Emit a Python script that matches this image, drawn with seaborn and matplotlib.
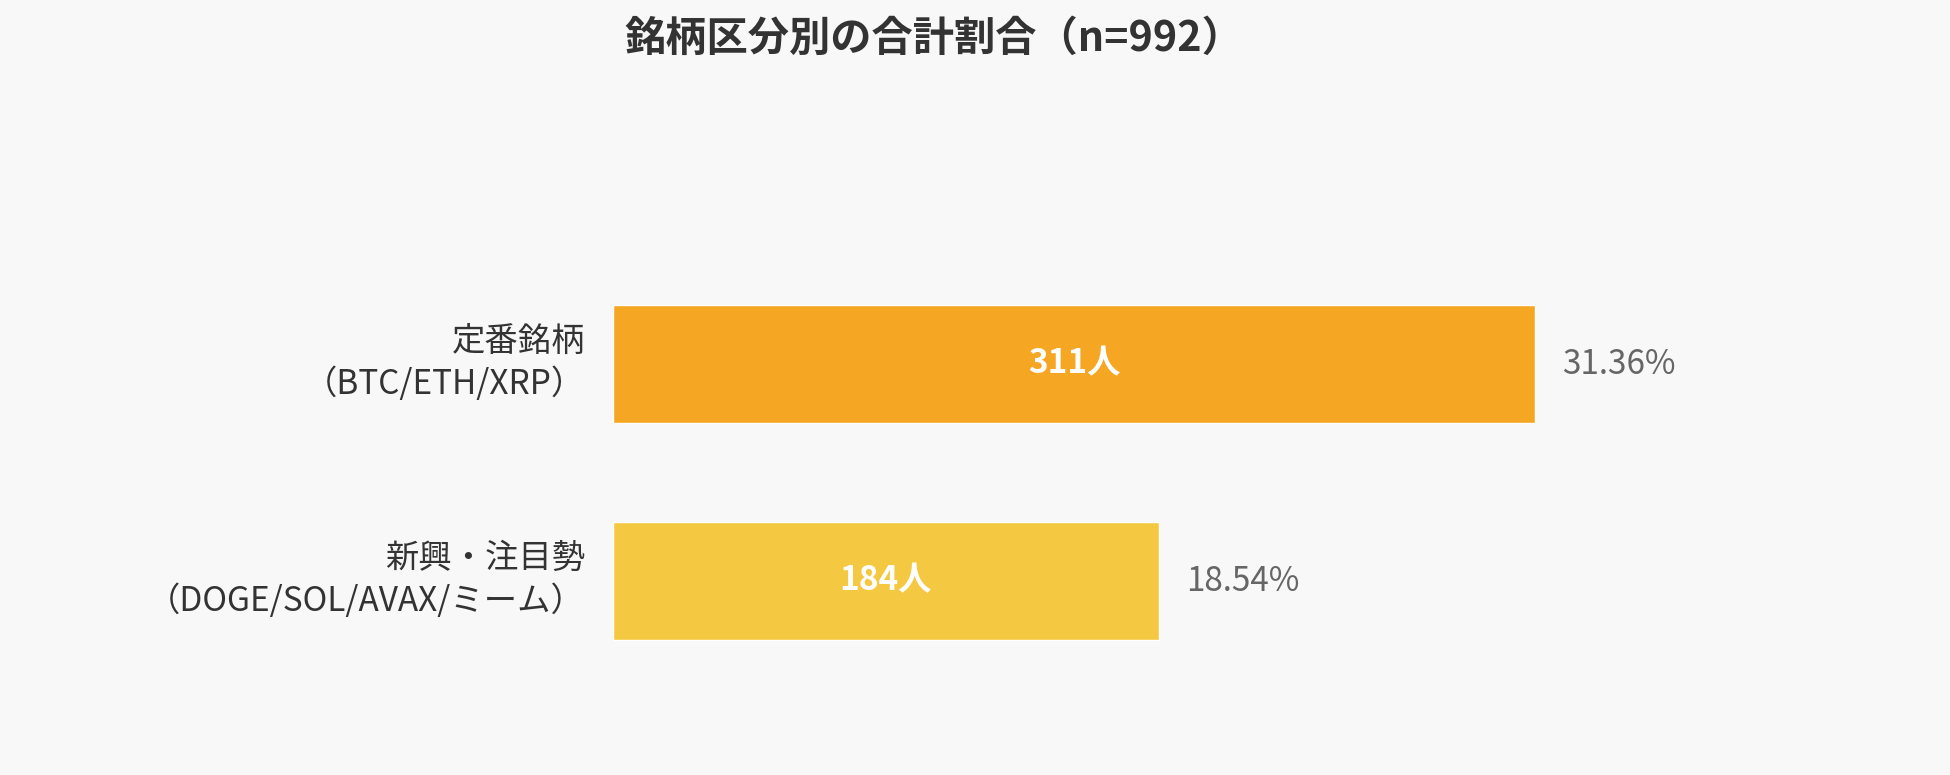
import matplotlib
matplotlib.use("Agg")
import matplotlib.pyplot as plt
import seaborn as sns
import pandas as pd

categories = ["定番銘柄\n（BTC/ETH/XRP）", "新興・注目勢\n（DOGE/SOL/AVAX/ミーム）"]
counts = [311, 184]
percents = [31.36, 18.54]
bar_colors = ["#F5A623", "#F5C842"]
title = "銘柄区分別の合計割合（n=992）"

sns.set_theme(style="white")
plt.rcParams['font.family'] = ['Noto Sans CJK JP', 'DejaVu Sans']

bg = "#F8F8F8"
fig = plt.figure(figsize=(19.5, 7.75), dpi=100, facecolor=bg)
ax = fig.add_axes([0.3144, 0.1103, 0.6082, 0.56])
ax.set_facecolor(bg)

df = pd.DataFrame({"category": categories, "count": counts})
sns.barplot(data=df, x="count", y="category", hue="category", palette=bar_colors,
            width=0.544, saturation=1, legend=False, ax=ax)

ax.set_xlim(0, 400)
ax.set_ylim(1.5, -0.5)
for s in ax.spines.values():
    s.set_visible(False)
ax.set_xticks([])
ax.set_xlabel("")
ax.set_ylabel("")
ax.tick_params(axis='y', length=0, labelleft=False)

for i, (cat, c, p) in enumerate(zip(categories, counts, percents)):
    ax.annotate(cat, xy=(0, i), xytext=(-28, 1), textcoords="offset pixels",
                ha="right", va="center", multialignment="right", linespacing=1.33,
                color="#333333", fontsize=24)
    ax.text(c / 2, i, f"{c}人", ha="center", va="center", color="white",
            fontsize=24, fontweight="bold")
    ax.annotate(f"{p:.2f}%", xy=(c, i), xytext=(27, 0), textcoords="offset pixels",
                ha="left", va="center", color="#666666", fontsize=24)

fig.text(0.479, 0.95, title, ha="center", va="center", fontsize=29.7,
         fontweight="bold", color="#333333")

fig.savefig("out.png", dpi=100, facecolor=bg)
